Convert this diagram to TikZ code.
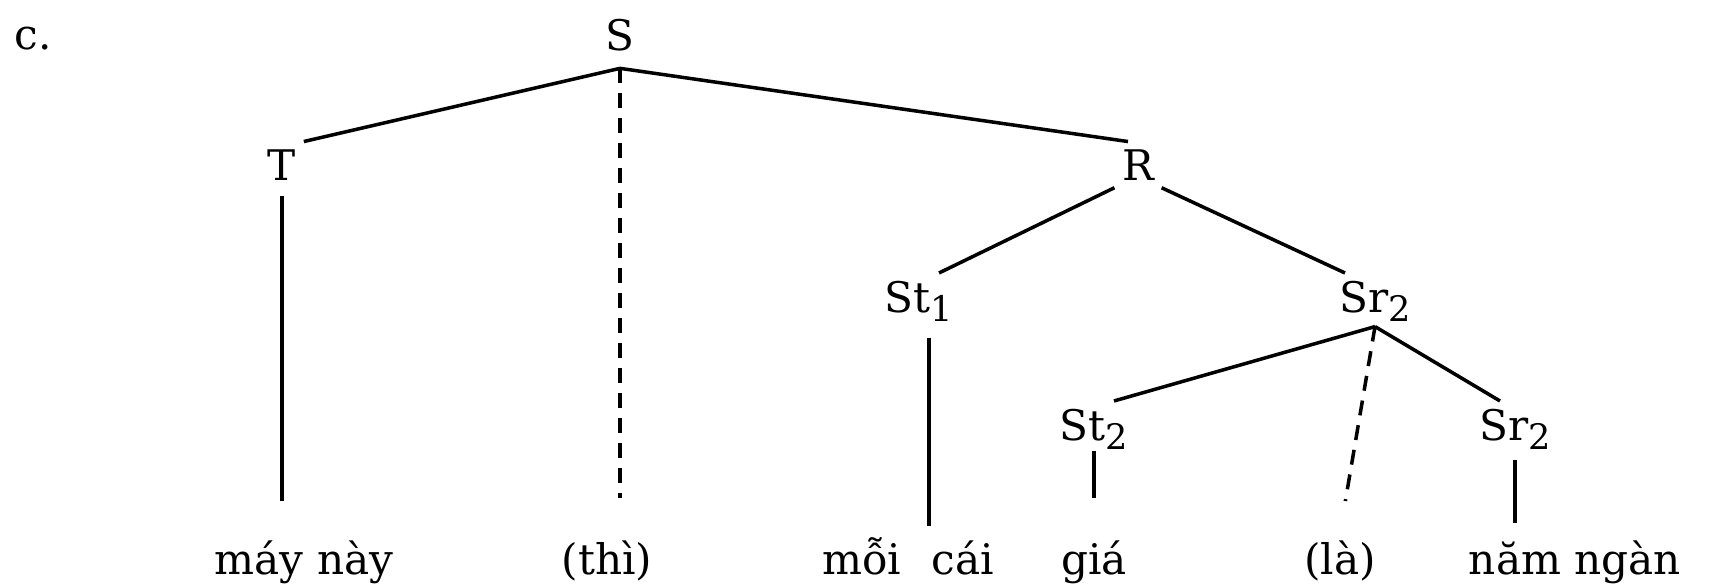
\documentclass[tikz,border=0pt]{standalone}
\usepackage{fontspec}
\setmainfont{DejaVu Serif}
\usetikzlibrary{calc}
\newcommand{\sub}[1]{\raisebox{-0.45ex}{\fontsize{10}{12}\selectfont #1}}

\begin{document}
\begin{tikzpicture}[
  x=0.1mm,y=-0.1mm,
  every node/.style={font=\fontsize{12}{14}\selectfont},
  cat/.style={anchor=base,inner sep=2pt},
  leaf/.style={anchor=base,inner sep=2pt},
  branch/.style={line width=1pt},
  stem/.style={line width=1pt,shorten <=0.8mm},
  gap/.style={line width=1pt,dash pattern=on 1.5mm off 1mm}
]
\useasboundingbox (0,0) rectangle (1715,584);
\node[cat] (lbl) at (33,49) {c.};
\node[cat] (S) at (620,50) {S};
\node[cat] (T) at (282,180) {T};
\node[cat] (R) at (1138,180) {R};
\node[cat] (St1) at (919,312) {St\sub{1}};
\node[cat] (Sr2) at (1375,312) {Sr\sub{2}};
\node[cat] (St2) at (1094,440) {St\sub{2}};
\node[cat] (Sr2b) at (1515,440) {Sr\sub{2}};
\node[leaf] (may) at (304,574) {máy này};
\node[leaf] (thi) at (607,574) {(thì)};
\node[leaf] (moi) at (908,574) {mỗi\hspace{0.4em} cái};
\node[leaf] (gia) at (1094,574) {giá};
\node[leaf] (la) at (1340,574) {(là)};
\node[leaf] (nam) at (1575,574) {năm ngàn};
\coordinate (Sj) at ([yshift=-1mm]S.south);
\coordinate (Sr2j) at ([yshift=0.3mm]Sr2.south);
\draw[branch] (Sj) -- (T.north east);
\draw[branch] (Sj) -- ([xshift=-1mm]R.north);
\draw[gap,shorten >=3.5mm] (Sj) -- (Sj |- thi.north);
\draw[stem,shorten >=3.2mm] (T.south) -- (T.south |- may.north);
\draw[branch] (R.south west) -- ([xshift=2mm]St1.north);
\draw[branch] (R.south east) -- ([xshift=-3mm]Sr2.north);
\draw[stem,shorten >=0.3mm] ([xshift=1mm]St1.south) -- ([xshift=1mm]St1.south |- moi.north);
\draw[branch] (Sr2j) -- ([xshift=2mm]St2.north);
\draw[branch] (Sr2j) -- ([xshift=-1.5mm]Sr2b.north);
\draw[gap,shorten >=3.2mm] (Sr2j) -- (la.north);
\draw[stem,shorten <=-0.7mm,shorten >=3.5mm] (St2.south) -- (St2.south |- gia.north);
\draw[stem,shorten <=0.2mm,shorten >=1mm] (Sr2b.south) -- (Sr2b.south |- nam.north);
\end{tikzpicture}
\end{document}
